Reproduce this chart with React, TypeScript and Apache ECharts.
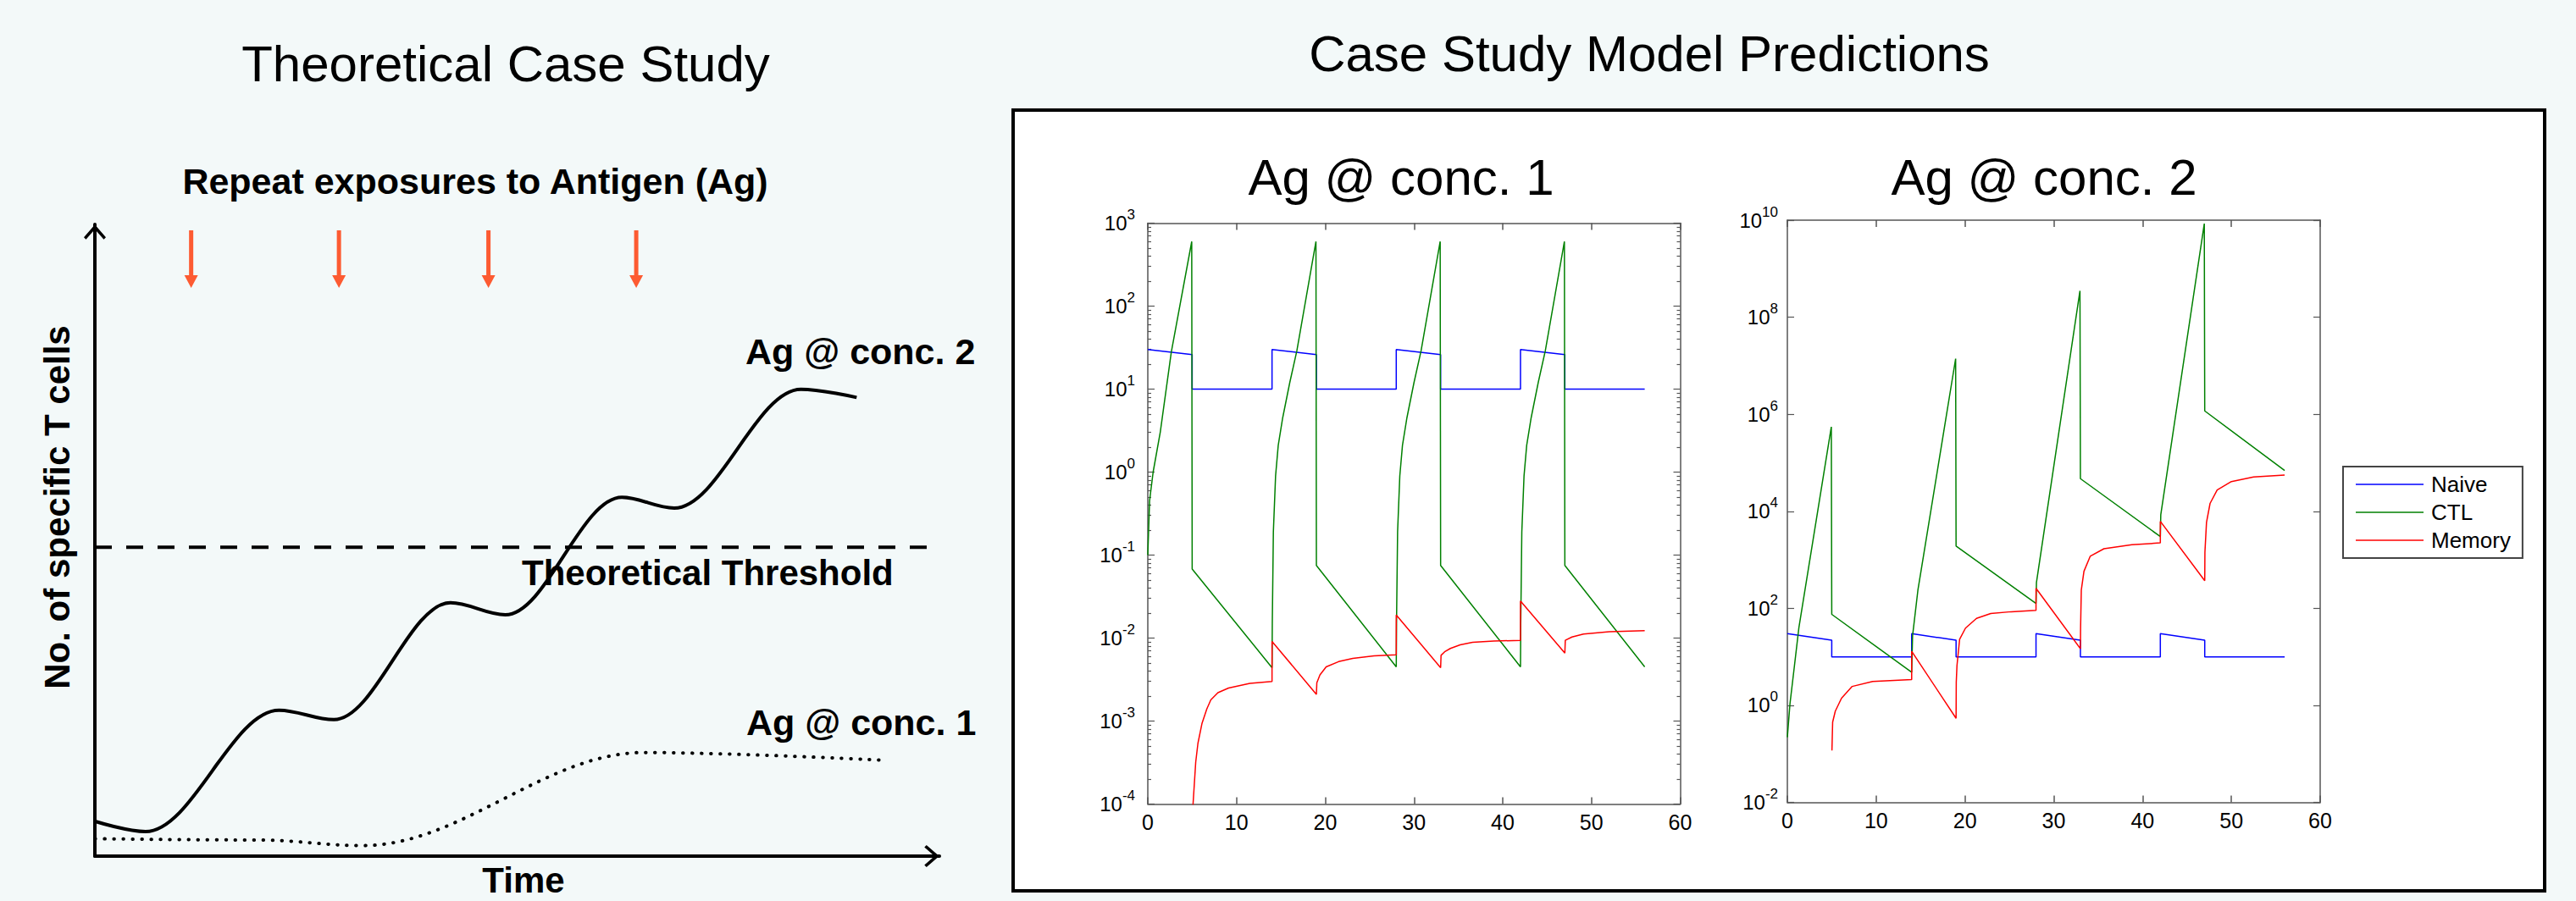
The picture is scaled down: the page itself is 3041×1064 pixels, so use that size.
import React, { useEffect, useRef } from 'react';
import * as echarts from 'echarts';

const FONT = '"Liberation Sans", Arial, Helvetica, sans-serif';

// ---------- Left panel (schematic, hidden 0..100 units on both axes) ----------
const conc2Schematic = [[0.05, 5.5], [6.0, 3.9], [21.8, 23.1], [28.3, 21.6], [42.1, 40.1], [48.6, 38.2], [62.4, 56.8], [68.6, 55.1], [83.6, 73.9], [90.2, 72.6]];
const conc1Schematic = [[0.05, 2.75], [19.5, 2.55], [31.7, 1.66], [65, 16.4], [93.1, 15.2]];
const thresholdLine = [[0, 48.9], [99, 48.9]];
const exposureTimes = [11.4, 28.9, 46.6, 64.1];
const exposureLevel = 94.5;

// ---------- Model predictions ----------
const timeMin = 0;
const timeMax = 60;
const timeStep = 10;

const conc1TickValues = [1e-4, 1e-3, 1e-2, 1e-1, 1, 1e1, 1e2, 1e3];
const conc1Decades = [-4, -3, -2, -1, 0, 1, 2];
const minorFactors = [2, 3, 4, 5, 6, 7, 8, 9];
const conc2TickValues = [1e-2, 1, 1e2, 1e4, 1e6, 1e8, 1e10];

const naive1 = [[0, 30], [5, 26], [5, 10], [14, 10], [14, 30], [19, 26], [19, 10], [28, 10], [28, 30], [33, 26], [33, 10], [42, 10], [42, 30], [47, 26], [47, 10], [56, 10]];
const ctl1 = [[0, 0.1], [0.2, 0.45], [0.6, 1], [1.4, 3], [2.65, 28], [4.95, 600], [5, 0.068],
  [14, 0.0044], [14.03, 0.015], [14.15, 0.19], [14.4, 0.9], [14.7, 2.1], [15.2, 4.5], [16, 12], [16.8, 29], [18.95, 600], [19, 0.075],
  [28, 0.0045], [28.03, 0.015], [28.15, 0.19], [28.4, 0.9], [28.7, 2.1], [29.2, 4.5], [30, 12], [30.8, 29], [32.95, 600], [33, 0.075],
  [42, 0.0045], [42.03, 0.015], [42.15, 0.19], [42.4, 0.9], [42.7, 2.1], [43.2, 4.5], [44, 12], [44.8, 29], [46.95, 600], [47, 0.075],
  [56, 0.0045]];
const memory1 = [[5.03, 5e-5], [5.1, 1e-4], [5.4, 3.2e-4], [5.65, 5.4e-4], [6.1, 9.3e-4], [6.65, 1.4e-3], [7.1, 1.8e-3], [7.9, 2.2e-3], [9.1, 2.5e-3], [11.5, 2.85e-3], [14, 3.0e-3],
  [14, 9.1e-3], [19, 2.1e-3], [19.05, 2.9e-3], [19.4, 3.6e-3], [20.1, 4.5e-3], [21.5, 5.2e-3], [23.1, 5.7e-3], [25.5, 6.1e-3], [28, 6.3e-3],
  [28, 0.019], [33, 4.4e-3], [33.05, 6.2e-3], [33.5, 6.9e-3], [34.1, 7.5e-3], [35.2, 8.3e-3], [36.6, 8.9e-3], [39, 9.2e-3], [42, 9.4e-3],
  [42, 0.028], [47, 6.6e-3], [47.05, 9.4e-3], [47.8, 1.03e-2], [49.1, 0.0112], [52, 0.0119], [56, 0.0123]];

const naive2 = [[0, 30], [5, 22], [5, 10], [14, 10], [14, 30], [19, 22], [19, 10], [28, 10], [28, 30], [33, 22], [33, 10], [42, 10], [42, 30], [47, 22], [47, 10], [56, 10]];
const ctl2 = [[0, 0.22], [0.3, 1.1], [0.8, 6.6], [1.3, 40], [4.95, 5.5e5], [5, 75], [14, 4.8], [14.1, 27], [14.7, 236], [18.95, 1.4e7], [19, 1920],
  [28, 126], [28.05, 340], [32.95, 3.5e8], [33, 4.7e4], [42, 3000], [42.05, 8500], [46.95, 8.5e9], [47, 1.17e6], [56, 6.9e4]];
const memory2 = [[5.02, 0.117], [5.1, 0.45], [5.4, 0.76], [6.1, 1.4], [7.3, 2.45], [9.6, 3.1], [14, 3.4], [14, 13], [19, 0.54],
  [19.02, 3], [19.1, 6.6], [19.4, 23], [20.06, 39], [21.3, 62], [22.9, 78], [25.2, 85], [28, 91], [28, 258], [33, 14.7],
  [33.02, 39], [33.1, 236], [33.4, 580], [34.1, 1180], [35.65, 1690], [38.8, 2040], [42, 2230], [42, 6200], [47, 370],
  [47.02, 1420], [47.2, 5900], [47.6, 1.45e4], [48.4, 2.74e4], [50, 4.1e4], [52.5, 5.1e4], [56, 5.6e4]];

const seriesNames = ['Naive', 'CTL', 'Memory'];
const seriesColors = ['#0000ff', '#008000', '#ff0000'];

const conc1Minor = conc1Decades.flatMap((d) => minorFactors.map((k) => k * Math.pow(10, d)));

const AXIS_COLOR = '#555';
const ARROW = 'path://M0,15 L13,0 L26,15 L23.5,17.5 L13,5.5 L2.5,17.5 Z';
const DOWN_ARROW = 'path://M5.5,0 L10.5,0 L10.5,53 L16,53 L8,68 L0,53 L5.5,53 Z';
const LEGEND_LINE = 'path://M0,0 L80,0 L80,1.6 L0,1.6 Z';

const expFormatter = (v: number) => {
  const e = Math.round(Math.log10(v));
  return `{b|10}{e|${e}}`;
};
const expRich = {
  b: { fontSize: 24, fontFamily: FONT, color: '#000' },
  e: { fontSize: 17, fontFamily: FONT, color: '#000', lineHeight: 17, padding: [0, 0, 20, 0] },
};

function timeAxis(gridIndex: number, position: 'top' | 'bottom') {
  return {
    type: 'value', gridIndex, position, min: timeMin, max: timeMax, interval: timeStep,
    axisLine: { show: true, onZero: false, lineStyle: { color: AXIS_COLOR, width: 1.5 } },
    axisTick: { show: true, inside: true, length: 8, lineStyle: { color: AXIS_COLOR, width: 1.5 } },
    axisLabel: { show: position === 'bottom', fontSize: 25, color: '#000', fontFamily: FONT, margin: 9 },
    splitLine: { show: false },
  };
}

function logAxis(gridIndex: number, position: 'left' | 'right', min: number, max: number, ticks: number[], major: boolean, labels: boolean, margin: number) {
  return {
    type: 'log', logBase: 10, gridIndex, position, min, max,
    axisLine: { show: major, onZero: false, lineStyle: { color: AXIS_COLOR, width: 1.5 } },
    axisTick: { show: true, inside: true, length: major ? 8 : 4, customValues: ticks, lineStyle: { color: AXIS_COLOR, width: 1.2 } },
    axisLabel: labels
      ? { show: true, customValues: ticks, formatter: expFormatter, rich: expRich, margin, color: '#000' }
      : { show: false },
    splitLine: { show: false },
    minorTick: { show: false },
  };
}

function plotSeries(xIdx: number, yIdx: number, datasets: number[][][]) {
  return datasets.map((d, i) => ({
    type: 'line', name: seriesNames[i], xAxisIndex: xIdx, yAxisIndex: yIdx, data: d,
    symbol: 'none', showSymbol: false, clip: true,
    lineStyle: { color: seriesColors[i], width: 1.5 }, itemStyle: { color: seriesColors[i] },
  }));
}

function txt(text: string, x: number, y: number, size: number, bold: boolean, align = 'center', rotation = 0) {
  return {
    type: 'text', x, y, rotation, z: 10,
    style: {
      text, fontSize: size, fontWeight: bold ? 'bold' : 'normal', fontFamily: FONT, fill: '#000',
      align, verticalAlign: 'middle', textAlign: align, textVerticalAlign: 'middle',
    },
  };
}

const hiddenAxisBase = {
  type: 'value', min: 0, max: 100,
  axisTick: { show: false }, axisLabel: { show: false }, splitLine: { show: false },
};

const option: any = {
  animation: false,
  backgroundColor: '#f3f9f9',
  textStyle: { fontFamily: FONT },
  grid: [
    { left: 112, top: 265, width: 997, height: 746 },
    { left: 1355, top: 263.5, width: 628.5, height: 686 },
    { left: 2110, top: 260, width: 629, height: 687.5 },
  ],
  xAxis: [
    { ...hiddenAxisBase, gridIndex: 0, position: 'bottom',
      axisLine: { show: true, onZero: false, symbol: ['none', ARROW], symbolSize: [26, 18], symbolOffset: [0, -9], lineStyle: { color: '#000', width: 4 } } },
    timeAxis(1, 'bottom'),
    timeAxis(1, 'top'),
    timeAxis(2, 'bottom'),
    timeAxis(2, 'top'),
  ],
  yAxis: [
    { ...hiddenAxisBase, gridIndex: 0, position: 'left',
      axisLine: { show: true, onZero: false, symbol: ['none', ARROW], symbolSize: [26, 18], symbolOffset: [0, -9], lineStyle: { color: '#000', width: 4 } } },
    logAxis(1, 'left', 1e-4, 1e3, conc1TickValues, true, true, 15),
    logAxis(1, 'left', 1e-4, 1e3, conc1Minor, false, false, 0),
    logAxis(1, 'right', 1e-4, 1e3, conc1TickValues, true, false, 0),
    logAxis(1, 'right', 1e-4, 1e3, conc1Minor, false, false, 0),
    logAxis(2, 'left', 1e-2, 1e10, conc2TickValues, true, true, 11),
    logAxis(2, 'right', 1e-2, 1e10, conc2TickValues, true, false, 0),
  ],
  legend: {
    data: seriesNames,
    orient: 'vertical', left: 2766, top: 551,
    icon: LEGEND_LINE,
    itemWidth: 80, itemHeight: 12, itemGap: 7,
    padding: [8, 14, 8, 15],
    borderColor: '#444', borderWidth: 2, backgroundColor: '#fff',
    selectedMode: false,
    textStyle: { fontSize: 26, color: '#000', fontFamily: FONT, padding: [0, 0, 0, 4] },
  },
  graphic: [
    { type: 'rect', z: -1, shape: { x: 1196, y: 130, width: 1808, height: 922 }, style: { fill: '#fff', stroke: '#000', lineWidth: 4 } },
    txt('Theoretical Case Study', 597, 75, 60, false),
    txt('Case Study Model Predictions', 1947, 63, 60, false),
    txt('Repeat exposures to Antigen (Ag)', 561, 214, 43, true),
    txt('Theoretical Threshold', 616, 676, 42, true, 'left'),
    txt('Ag @ conc. 2', 880, 415, 43, true, 'left'),
    txt('Ag @ conc. 1', 881, 853, 43, true, 'left'),
    txt('No. of specific T cells', 67, 599, 42, true, 'center', Math.PI / 2),
    txt('Time', 618, 1039, 42, true),
    txt('Ag @ conc. 1', 1654, 209, 60, false),
    txt('Ag @ conc. 2', 2413, 209, 60, false),
  ],
  series: [
    { type: 'line', xAxisIndex: 0, yAxisIndex: 0, data: thresholdLine, symbol: 'none', silent: true,
      lineStyle: { color: '#000', width: 4, type: [20, 17] } },
    { type: 'line', xAxisIndex: 0, yAxisIndex: 0, data: conc2Schematic, symbol: 'none', silent: true,
      smooth: 0.35, smoothMonotone: 'x', lineStyle: { color: '#000', width: 4 } },
    { type: 'line', xAxisIndex: 0, yAxisIndex: 0, data: conc1Schematic, symbol: 'none', silent: true,
      smooth: 0.35, smoothMonotone: 'x', lineStyle: { color: '#000', width: 4, type: [0.5, 10.5], cap: 'round' } },
    { type: 'scatter', xAxisIndex: 0, yAxisIndex: 0, silent: true,
      data: exposureTimes.map((t) => [t, exposureLevel]),
      symbol: DOWN_ARROW, symbolSize: [16, 68], itemStyle: { color: '#ff3300' } },
    ...plotSeries(1, 1, [naive1, ctl1, memory1]),
    ...plotSeries(3, 5, [naive2, ctl2, memory2]),
  ],
};

export default function App() {
  const ref = useRef<HTMLDivElement>(null);
  useEffect(() => {
    document.body.style.margin = '0';
    const chart = echarts.init(ref.current as HTMLDivElement, null, { renderer: 'svg', width: 3041, height: 1064 });
    chart.setOption(option);
    return () => chart.dispose();
  }, []);
  return <div ref={ref} style={{ width: 3041, height: 1064 }} />;
}
